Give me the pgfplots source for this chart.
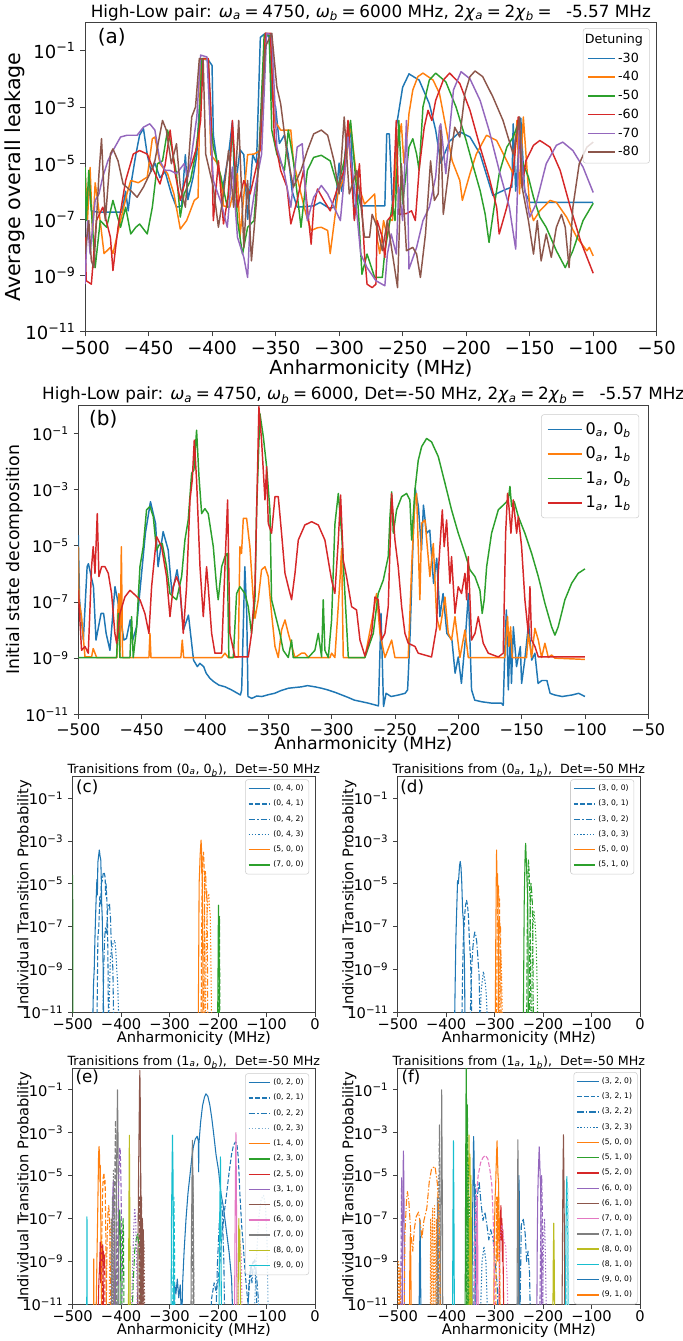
\documentclass[border=0pt]{standalone}
\usepackage{fontspec}
\setmainfont{DejaVu Sans}
\usepackage{pgfplots}
\pgfplotsset{compat=1.18}
\definecolor{C0}{HTML}{1F77B4}
\definecolor{C1}{HTML}{FF7F0E}
\definecolor{C2}{HTML}{2CA02C}
\definecolor{C3}{HTML}{D62728}
\definecolor{C4}{HTML}{9467BD}
\definecolor{C5}{HTML}{8C564B}
\definecolor{C6}{HTML}{E377C2}
\definecolor{C7}{HTML}{7F7F7F}
\definecolor{C8}{HTML}{BCBD22}
\definecolor{C9}{HTML}{17BECF}
\newcommand\tp[1]{10\textsuperscript{#1}}
\newcommand\sub[1]{\textsubscript{\itshape #1}}
\newcommand\om{\textit{ω}}
\newcommand\ch{\textit{χ}}
\newcommand\eq{\hspace{0.22em}=\hspace{0.22em}}
\tikzset{dsh/.style={dash pattern=on 3.5pt off 1.5pt},
  dd/.style={dash pattern=on 5pt off 1.5pt on 1pt off 1.5pt},
  dt/.style={dash pattern=on 1pt off 1.4pt}}
\pgfplotsset{
  scale only axis,
  ytick={1e-11,1e-9,1e-7,1e-5,1e-3,1e-1},
  yticklabels={\tp{−11},\tp{−9},\tp{−7},\tp{−5},\tp{−3},\tp{−1}},
  xtick pos=bottom, ytick pos=left, tick align=outside,
  major tick length=3.5pt,
  axis line style={black!75, line width=0.6pt},
  legend cell align=left,
  legend style={draw=black!20, rounded corners=2pt, fill=white, fill opacity=0.8, text opacity=1, draw opacity=1, anchor=north east},
}
\begin{document}
\begin{tikzpicture}
\useasboundingbox (0,0) rectangle (511.5pt,1005.75pt);

% ---------------- (a)
\begin{axis}[ymode=log, xmin=-500, xmax=-50, ymin=1e-11, ymax=1,
  at={(63.75pt,757pt)}, width=428.8pt, height=231.75pt,
  xtick={-500,-450,...,-50},
  xticklabels={−500,−450,−400,−350,−300,−250,−200,−150,−100,−50},
  yminorticks=false,
  tick label style={font=\fontsize{13.5}{13.5}\selectfont},
  every tick/.style={black!75, line width=0.6pt},
  title={High-Low pair: \om\sub{a}\eq4750, \om\sub{b}\eq6000 MHz, 2\ch\sub{a}\eq2\ch\sub{b}\eq\ \ -5.57 MHz},
  title style={font=\fontsize{12.6}{12.6}\selectfont, anchor=center, yshift=0pt, at={(axis description cs:0.5,1.006)}},
  ylabel={Average overall leakage},
  ylabel style={font=\fontsize{15.5}{15.5}\selectfont, anchor=center, at={(axis description cs:-0.122,0.5)}},
  xlabel={Anharmonicity (MHz)},
  xlabel style={font=\fontsize{14.5}{14.5}\selectfont, anchor=center, at={(axis description cs:0.5,-0.12)}},
  every axis plot/.append style={line width=1.1pt, line join=round},
  legend image code/.code={\draw[#1, line width=1.2pt, opacity=1] (0pt,0pt) -- (20pt,0pt);},
  legend style={at={(0.988,0.982)}, font=\fontsize{9.5}{11}\selectfont, row sep=1.5pt},
]
\addlegendimage{empty legend}\addlegendentry{\hspace*{-25pt}Detuning}
\addplot[C0] coordinates {(-500,7.2e-6) (-499,1e-7) (-497,2e-6) (-495,2e-7) (-490,1.8e-7) (-480,1.8e-7) (-471,1.8e-7) (-468,1e-6) (-466,2e-7) (-463,3e-6) (-460,2e-5) (-457,1e-4) (-454,1.7e-4) (-451,2e-5) (-448,5e-6) (-445,1e-5) (-441,3e-6) (-437,5e-6) (-432,8e-7) (-428,2.7e-7) (-424,3e-7) (-421,2e-5) (-419,5e-7) (-415,3e-6) (-412,2e-5) (-410,1e-3) (-407,5e-2) (-403,4.7e-2) (-400,3e-2) (-399,1e-4) (-396,1e-5) (-392,1e-6) (-387,2e-5) (-384,3e-4) (-382,1e-6) (-378,3e-5) (-375,2e-5) (-372,1e-7) (-368,2e-5) (-365,1e-5) (-362,0.3) (-358,0.42) (-355,0.3) (-353,2e-3) (-350,1e-3) (-347,5e-5) (-343,1e-4) (-340,2e-5) (-337,1e-6) (-333,2.7e-7) (-320,3e-7) (-315,4e-7) (-308,2.5e-7) (-303,2.7e-7) (-300,1e-5) (-298,1e-6) (-294,1e-4) (-291,2e-4) (-288,1e-7) (-286,1e-6) (-283,3e-7) (-264,3e-7) (-262.5,1.1e-4) (-260.5,1.1e-4) (-258,3e-7) (-256,1e-6) (-255,1.9e-4) (-250,5e-3) (-245,1.5e-2) (-237,9e-3) (-229,1.3e-3) (-224,1.5e-4) (-220,1e-5) (-213,6e-5) (-205,1.3e-4) (-197,8.5e-5) (-189,2.1e-5) (-179,7e-7) (-172,1e-6) (-168,1.2e-6) (-164,1.4e-6) (-163,2.5e-4) (-161,1e-6) (-157,4e-4) (-154,1e-6) (-150,4e-7) (-100,4e-7)};
\addlegendentry{-30}
\addplot[C1] coordinates {(-500,7e-6) (-498,1e-7) (-496,7e-6) (-494,3e-8) (-492,2e-6) (-489,2e-7) (-485,6e-9) (-480,1e-8) (-478,6e-9) (-472,9e-8) (-467,8e-7) (-464,2.4e-6) (-458,2e-6) (-451,3.2e-6) (-447,7.4e-5) (-445,8.5e-5) (-441,9.5e-6) (-435,4.2e-6) (-430,8e-7) (-425,4.5e-8) (-420,9e-8) (-414,4.7e-7) (-411,6e-7) (-409,5e-2) (-403,5e-2) (-401,2e-5) (-396,1e-5) (-393,3.2e-6) (-391,3e-7) (-386,2.7e-7) (-380,4.2e-6) (-378,2.3e-8) (-372,2e-5) (-367,2.1e-5) (-362,2.8e-5) (-358,0.42) (-354,0.36) (-351,3.3e-4) (-346,1.5e-4) (-338,1.5e-4) (-336,1.2e-5) (-330,8e-7) (-326,1.5e-7) (-322,4e-8) (-317,5e-8) (-314,5.2e-8) (-309,4e-8) (-307,6e-9) (-301,8e-7) (-296,3.2e-6) (-291,2.5e-4) (-286,2.4e-6) (-280,3.5e-7) (-272,8e-7) (-270,2e-8) (-268,6e-9) (-265,9e-8) (-262,2.3e-8) (-260,1e-7) (-258,9e-8) (-255,2.1e-5) (-251,2.5e-4) (-249,1e-5) (-246,1.5e-4) (-245,5.8e-4) (-242,4e-3) (-238,1.2e-2) (-234,1.6e-2) (-226,9e-3) (-221,3e-3) (-217,3.3e-4) (-211,1.2e-5) (-205,2.4e-6) (-203,4.7e-7) (-197,4.2e-6) (-192,2.1e-5) (-184,9.8e-5) (-176,6.4e-5) (-168,1.2e-5) (-163,4.2e-6) (-160,3.3e-4) (-158,8e-7) (-155,4.4e-4) (-150,2.7e-7) (-147,9e-8) (-142,2e-7) (-134,4.7e-7) (-129,4e-7) (-121,1.2e-7) (-113,2.3e-8) (-105,7.6e-9) (-103,1e-8) (-100,5e-9)};
\addlegendentry{-40}
\addplot[C2] coordinates {(-500,7.2e-6) (-499,9e-8) (-497,5.5e-6) (-492,1.9e-9) (-488,9e-8) (-483,5.2e-8) (-478,4.7e-7) (-475,1.5e-7) (-472,5.2e-8) (-468,2.7e-7) (-464,3e-8) (-460,5.2e-8) (-457,6.8e-8) (-451,3e-8) (-447,2.7e-7) (-443,9.5e-6) (-439,1.2e-5) (-435,1.5e-4) (-432,4e-5) (-428,4.2e-6) (-425,1.2e-7) (-422,8e-7) (-417,2.4e-6) (-413,2.1e-5) (-410,3.3e-4) (-408,5.3e-2) (-403,5.3e-2) (-401,3.3e-4) (-399,3.7e-5) (-393,3.2e-6) (-388,2.7e-7) (-384,1.9e-4) (-380,9e-8) (-376,5.8e-9) (-372,5.2e-8) (-367,9e-8) (-363,2.1e-5) (-359,0.36) (-355,0.36) (-353,1.5e-4) (-349,2.1e-5) (-343,5.5e-6) (-340,1.5e-4) (-336,1.2e-5) (-330,5.2e-8) (-325,5.5e-6) (-320,1.6e-5) (-314,1.9e-5) (-307,1.2e-5) (-301,1.4e-6) (-296,1.2e-5) (-291,3.3e-4) (-285,2.7e-7) (-282,1.1e-9) (-278,5.8e-9) (-272,8.5e-10) (-266,8.5e-10) (-264,7e-9) (-260,9e-8) (-258,3.5e-7) (-256,9e-8) (-253,3.3e-4) (-250,3.5e-7) (-245,3.7e-5) (-242,7.4e-5) (-239,2.1e-5) (-237,5.5e-6) (-234,1e-3) (-229,9e-3) (-224,1.6e-2) (-216,7.8e-3) (-208,1e-3) (-200,6.4e-5) (-195,9.5e-6) (-189,1.05e-6) (-185,1.5e-7) (-182,1.5e-8) (-178,2.7e-7) (-174,4.2e-6) (-168,3.7e-5) (-163,8.5e-5) (-158,3.3e-4) (-156,1.2e-5) (-151,3.2e-6) (-147,6.1e-7) (-142,1.2e-7) (-137,5.2e-8) (-129,7.6e-9) (-122,1.9e-9) (-116,7.6e-9) (-108,9e-8) (-100,3.7e-7)};
\addlegendentry{-50}
\addplot[C3] coordinates {(-500,2.3e-8) (-499,6.5e-10) (-495,4.9e-10) (-491,9e-8) (-486,2.7e-7) (-480,2.3e-8) (-478,1.5e-9) (-474,5.2e-8) (-468,2.4e-6) (-462,2.1e-5) (-457,2.8e-5) (-451,2.1e-5) (-446,5.5e-6) (-441,1.8e-6) (-437,8.3e-6) (-433,1.5e-4) (-429,4.2e-6) (-425,4.7e-7) (-421,2.4e-6) (-416,9.5e-6) (-412,3.7e-5) (-409,3.3e-4) (-407,5.3e-2) (-403,5.3e-2) (-401,1e-3) (-399,9e-8) (-395,1.2e-5) (-391,6.8e-8) (-387,8e-7) (-384,3.3e-4) (-380,2.7e-7) (-375,2.4e-6) (-370,8e-7) (-364,1.2e-5) (-362,3.7e-5) (-358,0.42) (-354,0.42) (-351,8.5e-5) (-346,5.5e-6) (-341,1.4e-6) (-338,6.8e-8) (-333,4.7e-7) (-328,5.5e-6) (-322,1.3e-8) (-320,2.7e-7) (-317,1.2e-6) (-312,4.7e-7) (-307,2e-7) (-301,1.4e-6) (-296,5.5e-6) (-293,3.3e-4) (-288,9e-8) (-284,9.5e-6) (-280,5.8e-9) (-278,4.9e-10) (-274,3.7e-10) (-271,4.9e-10) (-270,9e-8) (-266,2.3e-8) (-264,4.4e-9) (-262,9e-8) (-258,1.5e-7) (-255,3.3e-4) (-253,1.5e-7) (-247,1.6e-7) (-243,2e-7) (-240,9e-8) (-237,6e-6) (-233,1.9e-4) (-230,7.6e-4) (-227,3.3e-4) (-224,1.7e-3) (-218,9e-3) (-213,1.6e-2) (-205,6.8e-3) (-197,7.6e-4) (-189,3.7e-5) (-182,3.2e-6) (-176,2.7e-7) (-174,3e-8) (-168,2.7e-7) (-163,4.2e-6) (-159,4.4e-4) (-156,1.4e-6) (-153,1.2e-5) (-147,4.3e-5) (-142,6.4e-5) (-134,3.7e-5) (-126,5.5e-6) (-118,2.7e-7) (-110,1.7e-8) (-100,1.2e-9)};
\addlegendentry{-60}
\addplot[C4] coordinates {(-500,4.9e-10) (-498,9e-8) (-496,5.8e-9) (-492,4.7e-7) (-489,8e-7) (-486,3.2e-6) (-482,1.2e-5) (-478,2.8e-5) (-472,8.5e-5) (-467,9.8e-5) (-459,9.8e-5) (-454,1.9e-4) (-449,2.5e-4) (-445,1.5e-4) (-441,1.2e-5) (-437,5.5e-6) (-433,5.5e-6) (-428,4.2e-6) (-422,9.5e-6) (-419,3.2e-6) (-416,2.1e-5) (-412,4.4e-4) (-409,7e-2) (-404,6e-2) (-401,8.5e-5) (-399,2.4e-6) (-393,4e-7) (-388,5.2e-8) (-384,7.2e-6) (-380,2.3e-8) (-375,4.4e-9) (-372,8.5e-10) (-370,9e-8) (-366,1.4e-6) (-361,2.1e-5) (-357,0.42) (-353,0.36) (-349,3.7e-5) (-343,4.2e-6) (-338,2.7e-7) (-333,3.7e-5) (-329,4.9e-5) (-325,9e-8) (-320,6.1e-7) (-314,1.6e-6) (-309,8e-7) (-304,2.7e-7) (-299,9e-8) (-293,8.5e-5) (-288,1.4e-6) (-283,5.8e-9) (-278,1.9e-9) (-271,6.5e-10) (-264,4.3e-10) (-262,5.8e-9) (-259,3e-8) (-255,5.8e-9) (-253,1.4e-6) (-250,9e-8) (-247,3.3e-4) (-245,1.7e-9) (-239,1e-8) (-234,9e-8) (-229,2.7e-7) (-224,3.2e-6) (-221,1.9e-4) (-220,2.5e-4) (-216,4.2e-6) (-213,1.5e-4) (-210,4e-3) (-204,1.8e-2) (-197,1e-2) (-189,1.7e-3) (-182,1.5e-4) (-174,5.5e-6) (-166,2.7e-7) (-161,8.7e-9) (-158,3.3e-4) (-155,2.4e-6) (-150,1.2e-7) (-145,3.5e-7) (-137,9.5e-6) (-129,4.3e-5) (-124,5.6e-5) (-116,2.8e-5) (-108,7.2e-6) (-100,9e-7)};
\addlegendentry{-70}
\addplot[C5] coordinates {(-500,5.8e-9) (-497,9e-8) (-495,3.3e-9) (-493,1.9e-9) (-489,4.2e-6) (-487,7.4e-5) (-484,9e-8) (-480,2.1e-5) (-478,3.2e-5) (-474,1.2e-5) (-470,1.8e-6) (-464,1.05e-6) (-459,6.1e-7) (-454,1.4e-6) (-449,4.2e-6) (-445,1.2e-5) (-439,3.3e-4) (-436,1.5e-4) (-432,9.5e-6) (-428,4.9e-5) (-425,1.4e-6) (-421,2.7e-7) (-416,4.4e-4) (-413,1e-3) (-410,5.3e-2) (-407,4.7e-2) (-405,2.1e-5) (-399,1.4e-6) (-395,5.2e-8) (-391,8e-7) (-387,2.8e-5) (-383,2.7e-7) (-379,3.3e-4) (-375,1e-8) (-372,2.4e-6) (-369,3.3e-9) (-365,4.7e-7) (-362,1.5e-4) (-358,0.14) (-353,0.42) (-349,5.1e-3) (-346,1.3e-3) (-341,2.1e-5) (-336,1.4e-6) (-330,5.5e-6) (-325,2.8e-5) (-320,1.1e-4) (-314,1.5e-4) (-309,9.8e-5) (-304,1.2e-5) (-300,8e-7) (-296,4.4e-4) (-292,8e-7) (-286,5.5e-6) (-280,2.3e-8) (-276,2.3e-8) (-274,1.5e-7) (-270,5.2e-8) (-266,7.6e-9) (-262,9e-8) (-258,5.8e-9) (-254,3.7e-10) (-251,9.5e-6) (-247,7.6e-9) (-242,1e-8) (-239,5.8e-9) (-236,8.5e-10) (-232,3e-8) (-228,1.2e-5) (-225,4.7e-7) (-222,8e-7) (-220,1.5e-4) (-218,1.5e-7) (-213,9.5e-6) (-209,1.9e-4) (-205,8.5e-5) (-201,3e-3) (-197,1.2e-2) (-193,1.9e-2) (-187,1.2e-2) (-179,2.3e-3) (-171,3.3e-4) (-163,2.1e-5) (-158,4.4e-4) (-156,1.4e-6) (-151,9e-8) (-147,5.8e-9) (-144,9e-8) (-141,3.3e-9) (-137,3e-8) (-133,4.4e-9) (-129,5.2e-8) (-125,1.5e-7) (-122,5.2e-8) (-119,1.9e-9) (-116,2.7e-7) (-111,9.5e-6) (-105,3.7e-5) (-100,5.6e-5)};
\addlegendentry{-80}
\node[font=\fontsize{15}{15}\selectfont] at (rel axis cs:0.047,0.953) {(a)};
\end{axis}

% ---------------- (b)
\begin{axis}[ymode=log, xmin=-500, xmax=-50, ymin=1e-11, ymax=1,
  at={(58.7pt,470pt)}, width=427.5pt, height=231.75pt,
  xtick={-500,-450,...,-50},
  xticklabels={−500,−450,−400,−350,−300,−250,−200,−150,−100,−50},
  yminorticks=false,
  tick label style={font=\fontsize{12}{12}\selectfont},
  every tick/.style={black!75, line width=0.6pt},
  title={High-Low pair: \om\sub{a}\eq4750, \om\sub{b}\eq6000, Det=-50 MHz, 2\ch\sub{a}\eq2\ch\sub{b}\eq\ \ -5.57 MHz},
  title style={font=\fontsize{12.6}{12.6}\selectfont, anchor=center, yshift=0pt, at={(axis description cs:0.5,1.007)}},
  ylabel={Initial state decomposition},
  ylabel style={font=\fontsize{13}{13}\selectfont, anchor=center, at={(axis description cs:-0.112,0.5)}},
  xlabel={Anharmonicity (MHz)},
  xlabel style={font=\fontsize{12.7}{12.7}\selectfont, anchor=center, at={(axis description cs:0.5,-0.1)}},
  every axis plot/.append style={line width=1.1pt, line join=round},
  legend image code/.code={\draw[#1, line width=1.2pt, opacity=1] (0pt,0pt) -- (26pt,0pt);},
  legend style={at={(0.984,0.971)}, font=\fontsize{12}{14}\selectfont, row sep=4pt, inner sep=4pt},
]
\addplot[C0] coordinates {(-500,2.4e-5) (-499,1.2e-7) (-496,4.4e-9) (-493,1.8e-6) (-492,2.3e-6) (-488,3.5e-7) (-486,4.4e-9) (-482,3.9e-8) (-480,3.9e-8) (-478,7.6e-9) (-475,1.9e-9) (-471,3.5e-7) (-468,6.8e-8) (-464,4.4e-9) (-462,5e-9) (-459,2.3e-8) (-457,4.4e-9) (-454,1.3e-8) (-451,3.5e-7) (-447,2.8e-5) (-443,3.7e-4) (-439,6.3e-5) (-437,1.8e-6) (-433,3.2e-5) (-429,7.1e-6) (-426,2e-7) (-422,1.4e-6) (-420,3.5e-7) (-417,1e-8) (-413,3.4e-8) (-409,8.5e-10) (-406,5e-10) (-404,6.5e-10) (-401,5e-10) (-399,2.9e-10) (-396,1.9e-10) (-393,1.45e-10) (-389,1.1e-10) (-384,9.5e-11) (-379,7.4e-11) (-372,4.9e-11) (-371,7.4e-11) (-368.5,1.8e-6) (-367,3.9e-8) (-366,4.3e-11) (-363,3.7e-11) (-359,4.5e-11) (-355,4.3e-11) (-350,5e-11) (-345,5.6e-11) (-340,7e-11) (-334,8.5e-11) (-329,9e-11) (-324,9.5e-11) (-319,1.05e-10) (-313,9.5e-11) (-308,8.5e-11) (-303,7.4e-11) (-297,6e-11) (-292,4.9e-11) (-287,4e-11) (-282,3.2e-11) (-276,2.8e-11) (-271,2.5e-11) (-263,2e-11) (-261,3.9e-8) (-259,1.9e-11) (-257,5.6e-11) (-253,4.3e-11) (-247,4.9e-11) (-242,5.6e-11) (-240,7.4e-11) (-238,7.6e-9) (-235.5,2.8e-5) (-234,1.1e-3) (-231.5,2.5e-4) (-229,7.1e-6) (-227.5,2.8e-4) (-225,2.8e-5) (-222.5,3.6e-5) (-219.5,4.6e-7) (-217,3.6e-6) (-214.5,3e-8) (-212,2e-7) (-209,7.6e-9) (-205,4.4e-9) (-202.5,2.9e-10) (-200,1.1e-9) (-197.5,1.26e-10) (-194.5,4.4e-9) (-192,2e-7) (-189.5,7.4e-11) (-187,3.2e-11) (-181.5,2.8e-11) (-173.5,2.5e-11) (-166,2.5e-11) (-164.5,2.1e-11) (-163,4.4e-9) (-162,5.2e-8) (-160.5,7.4e-11) (-159,7.6e-9) (-158,1.26e-10) (-156.5,1.3e-8) (-154,5e-10) (-151,2.6e-9) (-150,1.26e-10) (-147.5,8.5e-10) (-144.5,1.7e-8) (-142,8.5e-10) (-139.5,1.5e-9) (-137,1.26e-10) (-134,1.6e-10) (-130,1.6e-10) (-127.5,5.6e-11) (-124,4.9e-11) (-118,4.3e-11) (-110,4.9e-11) (-105,5.6e-11) (-100,4.3e-11)};
\addlegendentry{0\sub{a}, 0\sub{b}}
\addplot[C1] coordinates {(-500,9.3e-6) (-499.5,1.2e-7) (-497.4,3e-8) (-494.7,1.1e-9) (-489.5,1.1e-9) (-488.2,2.2e-9) (-485.5,1.05e-9) (-469.5,1.05e-9) (-469,3e-8) (-467.9,2e-7) (-467.1,1.05e-9) (-466,9.3e-6) (-465,1.05e-9) (-444.2,1.05e-9) (-443.4,7.6e-9) (-442.6,1.05e-9) (-419,1.05e-9) (-417.9,4.4e-9) (-416.8,1.05e-9) (-386.8,1.05e-9) (-384.2,1.5e-9) (-381.6,1.05e-9) (-373.7,1.1e-9) (-372.4,9.3e-6) (-371.1,5.4e-6) (-369.7,9.5e-5) (-367.1,9.5e-5) (-364.5,9.3e-6) (-361.8,1.2e-7) (-360.5,2.6e-8) (-357.9,1.2e-7) (-355.3,1.4e-6) (-352.6,1.8e-6) (-350,8e-7) (-347.4,3.9e-8) (-344.7,2.6e-9) (-342.1,1.05e-9) (-339.5,1e-8) (-336.8,2.3e-8) (-334.2,7.6e-9) (-328.9,1.05e-9) (-323.7,1.5e-9) (-321.1,1.5e-9) (-318.4,1.05e-9) (-301.3,1.05e-9) (-300,1.5e-9) (-297.4,1.05e-9) (-293.4,6e-7) (-292.1,8e-6) (-290.8,1.05e-9) (-273.7,1.05e-9) (-267.1,3.9e-8) (-264.5,2e-7) (-261.8,7.6e-9) (-257.9,1.05e-9) (-252.6,4.4e-9) (-250,1.05e-9) (-239.5,1.05e-9) (-236.8,1.8e-6) (-234.2,4.3e-4) (-232.9,7.3e-4) (-230.3,1.2e-7) (-228.9,6.3e-5) (-226.3,8.3e-5) (-222.4,8e-7) (-219.7,1.2e-5) (-217.1,3e-8) (-214.5,1e-8) (-210.5,1.5e-7) (-207.9,7.6e-9) (-205.3,4.4e-9) (-202.6,3e-8) (-198.7,1.05e-9) (-194.7,1e-8) (-192.1,1.05e-9) (-163.2,1.05e-9) (-161.1,3e-8) (-160,2.6e-9) (-158.7,1.3e-8) (-157.4,1.05e-9) (-146.1,1.05e-9) (-144.7,7.6e-9) (-142.1,1.05e-9) (-139.5,1.15e-8) (-136.8,4.4e-9) (-134.2,1.05e-9) (-131.6,3.4e-9) (-128.9,1.05e-9) (-126.3,1.3e-9) (-123.7,1e-9) (-100,9e-10)};
\addlegendentry{0\sub{a}, 1\sub{b}}
\addplot[C2] coordinates {(-500,1.05e-9) (-476.3,1.05e-9) (-469.7,1.05e-9) (-468.4,3.9e-8) (-467.1,1.05e-9) (-459.2,1.05e-9) (-457.9,3e-8) (-456.6,1.05e-9) (-453.9,1.3e-8) (-451.3,1.8e-6) (-448.7,9.3e-6) (-446.1,1.9e-4) (-443.4,2.5e-4) (-440.8,1.1e-4) (-438.2,7.1e-6) (-435.5,1.2e-5) (-433.7,1.2e-5) (-430.3,1.8e-6) (-427.6,2e-7) (-425,1.5e-7) (-422.4,1.2e-7) (-418.4,8e-7) (-415.8,1.6e-5) (-413.2,8.3e-5) (-410.5,3.8e-3) (-408.7,5e-3) (-406.6,0.13) (-404.7,2.9e-3) (-402.6,1.4e-4) (-400,2.1e-4) (-397.4,1.4e-4) (-393.4,9.3e-6) (-390.8,3.5e-7) (-389.5,1.2e-7) (-386.8,1.8e-6) (-384.2,4.1e-6) (-382.4,5.4e-6) (-381.1,1.05e-9) (-377.6,1.05e-9) (-375,2e-7) (-372.4,3.5e-7) (-368.4,2e-7) (-365.8,6.8e-8) (-363.2,7.6e-9) (-360.5,1.2e-7) (-359.2,1.9e-4) (-356.6,0.51) (-353.9,0.076) (-351.3,6.5e-3) (-348.7,1.9e-4) (-347.4,1.2e-7) (-344.7,3.9e-8) (-340.8,7.6e-9) (-338.2,1.9e-9) (-334.2,1.05e-9) (-331.6,4.4e-9) (-330.3,1.05e-9) (-318.4,1.05e-9) (-313.2,1.9e-9) (-310.5,7.6e-9) (-307.9,1.1e-9) (-306.6,1.2e-7) (-305.3,1.9e-9) (-302.6,1.05e-9) (-300,2.3e-8) (-297.4,5.8e-5) (-294.7,7.3e-4) (-292.1,2.8e-5) (-289.5,2e-7) (-286.8,1.05e-9) (-273.7,1.05e-9) (-267.1,7.6e-9) (-263.2,2e-7) (-259.2,6e-7) (-255.3,4.1e-6) (-253.9,1.1e-4) (-252.6,8.3e-4) (-251.3,2.8e-5) (-248.7,1.9e-4) (-244.7,5.6e-4) (-240.8,7.3e-4) (-238.2,4.3e-4) (-236.8,1.6e-5) (-234.2,9.6e-4) (-231.6,1.1e-2) (-228.9,3.4e-2) (-225,6.6e-2) (-221.1,5e-2) (-215.8,1.5e-2) (-210.5,1.7e-3) (-205.3,1.9e-4) (-200,2.8e-5) (-194.7,5.4e-6) (-190.8,1.4e-6) (-186.8,8e-7) (-182.9,2.6e-7) (-181.1,3.9e-8) (-179.5,1.2e-7) (-177.6,1.8e-6) (-173.7,2.8e-5) (-168.4,1.9e-4) (-163.2,3.2e-4) (-160.5,4.3e-4) (-159.2,1.3e-3) (-157.9,2.5e-4) (-155.8,3.7e-4) (-152.6,1.1e-4) (-147.4,2.8e-5) (-142.1,5.4e-6) (-136.8,8e-7) (-131.6,9e-8) (-126.3,1.3e-8) (-123.7,6.6e-9) (-121.1,1.3e-8) (-115.8,1.2e-7) (-110.5,4.6e-7) (-105.3,1.05e-6) (-100,1.5e-6)};
\addlegendentry{1\sub{a}, 0\sub{b}}
\addplot[C3] coordinates {(-500,2.6e-7) (-497.4,1.9e-9) (-494.7,2.6e-9) (-492.1,1.5e-9) (-489.5,1.8e-6) (-488.2,9.3e-6) (-486.8,1.05e-6) (-485,1.4e-4) (-483.7,8e-7) (-481.6,1.8e-6) (-478.9,1.8e-6) (-476.3,1.05e-6) (-473.7,2e-7) (-471.1,7.6e-9) (-469.7,3.4e-9) (-467.1,3.9e-8) (-463.2,1.5e-7) (-459.2,2.6e-7) (-455.3,1.8e-7) (-451.3,1.2e-7) (-447.4,3.9e-8) (-444.2,7.6e-9) (-442.1,3.5e-7) (-438.2,2.1e-5) (-434.2,9.3e-6) (-430.3,8e-7) (-427.6,3e-8) (-425,3.5e-7) (-422.4,8e-7) (-419.7,3.5e-7) (-417.1,7.6e-9) (-414.5,3.5e-7) (-411.8,4.3e-4) (-410,2.2e-3) (-408.4,5.8e-2) (-406.6,2.2e-3) (-403.9,1.8e-6) (-401.3,3e-8) (-398.7,1.8e-6) (-397.4,3.5e-7) (-394.7,7.6e-9) (-392.1,1.5e-9) (-386.8,1.5e-9) (-384.2,1.8e-6) (-382.1,4.3e-4) (-380.3,7.6e-9) (-376.3,1.1e-9) (-365.8,1.1e-9) (-363.2,7.6e-9) (-360.5,3.5e-7) (-358.4,6.5e-3) (-357.4,0.9) (-355.3,5.8e-2) (-352.6,4.3e-4) (-351.3,6.5e-3) (-350,6.3e-5) (-347.4,2.8e-5) (-344.7,5.6e-4) (-342.1,5.6e-4) (-339.5,2.8e-5) (-336.8,1.05e-6) (-334.2,3.5e-7) (-331.6,1.2e-7) (-328.9,1.05e-6) (-326.3,1.6e-5) (-321.1,5.5e-5) (-315.8,7.2e-5) (-310.5,5.5e-5) (-305.3,1.6e-5) (-300,6e-7) (-297.4,2e-7) (-294.7,1.6e-5) (-292.9,6.4e-4) (-290.8,3.1e-6) (-288.2,8e-7) (-284.2,6.8e-8) (-280.3,5.2e-8) (-277.6,4.4e-9) (-273.7,1.2e-9) (-268.4,7.6e-9) (-265.8,1.5e-7) (-263.2,1.2e-7) (-260.5,4.4e-9) (-257.9,7.6e-9) (-255.3,6.8e-8) (-252.6,7.3e-4) (-250,1.6e-5) (-247.4,1.8e-6) (-244.7,6.8e-8) (-242.1,7.6e-9) (-239.5,3.4e-9) (-234.2,2.6e-9) (-231.6,1.5e-9) (-221.1,1.1e-9) (-219.7,2.6e-9) (-217.1,1.3e-8) (-215.8,1.05e-6) (-214.5,9.3e-6) (-212.6,1.9e-4) (-211.1,9.3e-6) (-209.2,8.3e-5) (-206.6,4.6e-7) (-205.3,4.1e-6) (-202.6,3.9e-8) (-200,3.5e-7) (-197.4,2e-7) (-194.7,1.05e-6) (-193.4,1.2e-7) (-192.1,4.1e-6) (-189.5,4.4e-9) (-186.8,7.6e-9) (-184.2,3e-8) (-180.3,3.4e-9) (-176.3,1.5e-9) (-168.4,1.1e-9) (-164.5,1.5e-9) (-162.6,2.8e-5) (-161.1,7.3e-4) (-160,2.5e-4) (-158.4,2.8e-5) (-156.6,4.3e-4) (-153.9,2.8e-5) (-152.6,1.1e-4) (-150,9.3e-6) (-147.4,1.2e-7) (-144.7,7.6e-9) (-143.4,3.5e-7) (-142.1,4.4e-9) (-139.5,2.6e-9) (-136.8,1.1e-9) (-100,1.1e-9)};
\addlegendentry{1\sub{a}, 1\sub{b}}
\node[font=\fontsize{15}{15}\selectfont] at (rel axis cs:0.044,0.956) {(b)};
\end{axis}

% ---------------- (c)
\begin{axis}[ymode=log, xmin=-500, xmax=0, ymin=1e-11, ymax=1,
  at={(54.5pt,246.5pt)}, width=181.7pt, height=176.7pt,
  xtick={-500,-400,...,0}, xticklabels={−500,−400,−300,−200,−100,0},
  yminorticks=false,
  tick label style={font=\fontsize{11}{11}\selectfont},
  xticklabel style={yshift=2.5pt},
  every tick/.style={black!75, line width=0.6pt},
  title={Tranisitions from (0\sub{a}, 0\sub{b}), \ Det=-50 MHz},
  title style={font=\fontsize{9.5}{9.5}\selectfont, anchor=center, yshift=0pt, at={(axis description cs:0.5,0.994)}},
  ylabel={Individual Transition Probability},
  ylabel style={font=\fontsize{11}{11}\selectfont, anchor=center, at={(axis description cs:-0.2,0.5)}},
  xlabel={Anharmonicity (MHz)},
  xlabel style={font=\fontsize{11}{11}\selectfont, anchor=center, at={(axis description cs:0.5,-0.112)}},
  every axis plot/.append style={line width=0.8pt, line join=round},
  legend image code/.code={\draw[#1, line width=1pt, opacity=1] (0pt,0pt) -- (16pt,0pt);},
  legend style={at={(0.976,0.989)}, font=\fontsize{5.7}{6.5}\selectfont, row sep=1.6pt, inner sep=2pt},
]
\addplot[C0] coordinates {(-459,1e-12) (-457,2e-10) (-455.5,1e-9) (-454,3e-8) (-452,1e-6) (-450,1.6e-5) (-449,3e-6) (-448,1e-4) (-446.5,2e-4) (-445,3.8e-4) (-443.5,2e-4) (-442,1.3e-4) (-441,2e-5) (-440,1e-6) (-439,3e-7) (-438,1e-8) (-437,1e-9) (-436,1e-12)};
\addlegendentry{(0, 4, 0)}
\addplot[C0,dsh] coordinates {(-450,1e-12) (-448,3e-8) (-446,1e-7) (-444,2.5e-6) (-442,1e-6) (-441,1e-5) (-439,1.4e-5) (-437,3e-5) (-435,3.5e-5) (-433,2e-5) (-432,3e-6) (-431,1e-5) (-429,1e-6) (-428,1.2e-7) (-427,1e-9) (-426,1e-12)};
\addlegendentry{(0, 4, 1)}
\addplot[C0,dd] coordinates {(-438,1e-12) (-436,1e-9) (-434,3e-8) (-432,1e-7) (-430,5e-8) (-428,5.8e-7) (-426,1e-6) (-424,1.2e-6) (-423,5e-7) (-422,2.8e-7) (-420,1e-8) (-418,3e-9) (-417,1e-9) (-415,1e-12)};
\addlegendentry{(0, 4, 2)}
\addplot[C0,dt] coordinates {(-426,1e-12) (-424,1e-10) (-422,4e-9) (-420,8e-9) (-417,1.6e-8) (-415,2e-8) (-413,2.3e-8) (-411,8e-9) (-409,1e-9) (-407,2e-10) (-404,1e-12)};
\addlegendentry{(0, 4, 3)}
\addplot[C1] coordinates {(-241,1e-12) (-240,1e-9) (-239.5,1e-7) (-239,1e-5) (-238,4e-5) (-237,2e-4) (-236,5e-4) (-235,1.1e-3) (-234,4e-4) (-233.5,3e-5) (-233,2e-4) (-232,1e-6) (-231.5,1e-8) (-231,1e-12)};
\addlegendentry{(5, 0, 0)}
\addplot[C2] coordinates {(-500,1e-12) (-500,2.5e-5) (-499.6,1e-9) (-499.3,1e-12)};
\addlegendentry{(7, 0, 0)}
\addplot[C1,dsh,forget plot] coordinates {(-235,1e-12) (-234,1e-8) (-233,3e-6) (-232,5e-5) (-231,2e-4) (-230,3e-4) (-229,1e-4) (-228,2e-5) (-227.5,1e-7) (-227,1e-12)};
\addplot[C1,dd,forget plot] coordinates {(-230,1e-12) (-229,1e-8) (-228,3e-6) (-227,2e-5) (-226,4e-5) (-225,1.5e-5) (-224,2e-6) (-223,5e-6) (-222,1e-8) (-221,1e-12)};
\addplot[C1,dt,forget plot] coordinates {(-226,1e-12) (-225,1e-9) (-223,3e-7) (-221,2e-6) (-219,3.5e-6) (-218,1e-6) (-216,3e-7) (-215,1e-8) (-213,1e-12)};
\addplot[C2,forget plot] coordinates {(-201,1e-12) (-200,1e-9) (-199.5,1e-7) (-199,1e-6) (-198.5,1e-8) (-198,1e-9) (-197.5,3e-9) (-197,1e-12)};
\addplot[C2,dsh,forget plot] coordinates {(-199,1e-12) (-198,1e-8) (-197,3e-7) (-196.5,1e-9) (-196,1e-12)};
\node[font=\fontsize{12.5}{12.5}\selectfont] at (rel axis cs:0.06,0.955) {(c)};
\end{axis}

% ---------------- (d)
\begin{axis}[ymode=log, xmin=-500, xmax=0, ymin=1e-11, ymax=1,
  at={(298.3pt,246.5pt)}, width=181.7pt, height=176.7pt,
  xtick={-500,-400,...,0}, xticklabels={−500,−400,−300,−200,−100,0},
  yminorticks=false,
  tick label style={font=\fontsize{11}{11}\selectfont},
  xticklabel style={yshift=2.5pt},
  every tick/.style={black!75, line width=0.6pt},
  title={Tranisitions from (0\sub{a}, 1\sub{b}), \ Det=-50 MHz},
  title style={font=\fontsize{9.5}{9.5}\selectfont, anchor=center, yshift=0pt, at={(axis description cs:0.5,0.994)}},
  ylabel={Individual Transition Probability},
  ylabel style={font=\fontsize{11}{11}\selectfont, anchor=center, at={(axis description cs:-0.2,0.5)}},
  xlabel={Anharmonicity (MHz)},
  xlabel style={font=\fontsize{11}{11}\selectfont, anchor=center, at={(axis description cs:0.5,-0.112)}},
  every axis plot/.append style={line width=0.8pt, line join=round},
  legend image code/.code={\draw[#1, line width=1pt, opacity=1] (0pt,0pt) -- (16pt,0pt);},
  legend style={at={(0.976,0.989)}, font=\fontsize{5.7}{6.5}\selectfont, row sep=1.6pt, inner sep=2pt},
]
\addplot[C0] coordinates {(-383,1e-12) (-381,1e-9) (-380,3e-8) (-378,1e-6) (-376.5,1.4e-5) (-375,1e-5) (-374,2e-5) (-372.5,7e-5) (-371,1.1e-4) (-369.5,6e-5) (-368,1.4e-5) (-366,5e-7) (-364.5,2e-7) (-363,1e-8) (-362,5e-10) (-361,1e-12)};
\addlegendentry{(3, 0, 0)}
\addplot[C0,dsh] coordinates {(-368,1e-12) (-366,1e-9) (-364.5,3e-8) (-363,1e-7) (-361,6e-7) (-359.5,1.2e-6) (-358,1.7e-6) (-356,1e-6) (-354,3e-7) (-352,2e-8) (-350,4e-9) (-348,1e-10) (-347,1e-12)};
\addlegendentry{(3, 0, 1)}
\addplot[C0,dd] coordinates {(-351,1e-12) (-349,1e-10) (-347,2e-9) (-345,1e-8) (-343,3e-8) (-341,5.6e-8) (-339,4e-8) (-337,2e-8) (-335,5e-9) (-333,1e-9) (-332,5e-10) (-330,1e-12)};
\addlegendentry{(3, 0, 2)}
\addplot[C0,dt] coordinates {(-330,1e-12) (-328,1e-10) (-326,2.2e-10) (-324,6e-10) (-323,8e-10) (-321,4e-10) (-319,2e-10) (-317,5e-11) (-314,1e-12)};
\addlegendentry{(3, 0, 3)}
\addplot[C1] coordinates {(-299,1e-12) (-298,1e-9) (-297.5,1e-7) (-297,1.3e-6) (-296.5,5e-5) (-296,3.8e-4) (-295.5,5e-5) (-295,1e-5) (-294,3e-5) (-293.5,1e-6) (-293,5e-6) (-292,1e-9) (-291.5,1e-12)};
\addlegendentry{(5, 0, 0)}
\addplot[C2] coordinates {(-241,1e-12) (-240,1e-9) (-239,1e-6) (-238,2e-5) (-237,3e-4) (-236,7.8e-4) (-235,2e-4) (-234,5e-5) (-233,1e-5) (-232,3e-6) (-231,1e-8) (-230.5,1e-12)};
\addlegendentry{(5, 1, 0)}
\addplot[C1,dsh,forget plot] coordinates {(-296,1e-12) (-295,1e-8) (-294,1e-5) (-293,3e-6) (-292,8e-6) (-291,1e-6) (-290,2e-6) (-289,1e-8) (-288.5,1e-12)};
\addplot[C1,dd,forget plot] coordinates {(-293,1e-12) (-292,1e-9) (-291,1e-7) (-290,2e-7) (-289,5e-8) (-288,1e-7) (-287,1e-9) (-286.5,1e-12)};
\addplot[C1,dt,forget plot] coordinates {(-291,1e-12) (-290,1e-10) (-289,3e-9) (-288,1e-9) (-287,5e-9) (-286,1e-9) (-285,1e-10) (-284,1e-12)};
\addplot[C2,dsh,forget plot] coordinates {(-234,1e-12) (-233,1e-8) (-232,3e-6) (-231,5e-5) (-230.5,1.3e-4) (-229.5,8e-5) (-228.5,2e-5) (-228,1e-5) (-227,2e-6) (-226,1e-8) (-225,1e-12)};
\addplot[C2,dd,forget plot] coordinates {(-229,1e-12) (-228,1e-9) (-227,1e-7) (-226,2e-6) (-225,1.2e-5) (-224,6e-6) (-223,3e-6) (-222,1e-6) (-221,1e-8) (-220,1e-12)};
\addplot[C2,dt,forget plot] coordinates {(-224,1e-12) (-223,1e-10) (-222,1e-8) (-221,1e-7) (-219,5.7e-7) (-218,3e-7) (-216,1e-7) (-214,1e-8) (-212,1e-10) (-211,1e-12)};
\node[font=\fontsize{12.5}{12.5}\selectfont] at (rel axis cs:0.06,0.955) {(d)};
\end{axis}

% ---------------- (e)
\begin{axis}[ymode=log, xmin=-500, xmax=0, ymin=1e-11, ymax=1,
  at={(54.5pt,27.5pt)}, width=181.7pt, height=177pt,
  xtick={-500,-400,...,0}, xticklabels={−500,−400,−300,−200,−100,0},
  yminorticks=false,
  tick label style={font=\fontsize{11}{11}\selectfont},
  xticklabel style={yshift=2.5pt},
  every tick/.style={black!75, line width=0.6pt},
  title={Tranisitions from (1\sub{a}, 0\sub{b}), \ Det=-50 MHz},
  title style={font=\fontsize{9.5}{9.5}\selectfont, anchor=center, yshift=0pt, at={(axis description cs:0.5,0.993)}},
  ylabel={Individual Transition Probability},
  ylabel style={font=\fontsize{11}{11}\selectfont, anchor=center, at={(axis description cs:-0.2,0.5)}},
  xlabel={Anharmonicity (MHz)},
  xlabel style={font=\fontsize{11}{11}\selectfont, anchor=center, at={(axis description cs:0.5,-0.112)}},
  every axis plot/.append style={line width=0.8pt, line join=round},
  legend image code/.code={\draw[#1, line width=1pt, opacity=1] (0pt,0pt) -- (16pt,0pt);},
  legend style={at={(0.976,0.979)}, font=\fontsize{5.7}{6.5}\selectfont, row sep=1.6pt, inner sep=2pt},
]
\addplot[C0] coordinates {(-292,1e-12) (-290,1e-10) (-287,3e-11) (-284,1.5e-10) (-281,2e-11) (-278,8e-11) (-275,1e-12) (-273,1e-10) (-270,3e-9) (-266,1e-7) (-262,1.5e-6) (-258,1e-5) (-254,7e-5) (-251,2.1e-4) (-247,5e-4) (-243,6.8e-4) (-240.5,4e-4) (-240,1.5e-5) (-239.5,3e-4) (-236,3e-3) (-232,1.8e-2) (-228,4.5e-2) (-225,6.5e-2) (-221,5e-2) (-217,2e-2) (-213,5e-3) (-209,9e-4) (-204,9e-5) (-199,1.8e-5) (-194,1.5e-6) (-189,3.5e-7) (-182,2e-8) (-177,2.5e-9) (-172,1.5e-10) (-169,1e-12)};
\addlegendentry{(0, 2, 0)}
\addplot[C0,dsh] coordinates {(-217,1e-12) (-213,2e-11) (-208,1e-10) (-204,4e-11) (-200,1.2e-10) (-196,1e-9) (-192,1.5e-8) (-187,2e-7) (-182,1.6e-6) (-177,1.5e-5) (-172,1e-4) (-168,2.6e-4) (-164,3.7e-4) (-161,3e-4) (-158,6e-5) (-155,1.6e-6) (-151,4e-8) (-148,6e-9) (-144,3e-10) (-141,5e-11) (-138,1e-11) (-135,1e-10) (-131,6e-10) (-127,1e-9) (-124,5e-10) (-121,4e-11) (-118,1e-12)};
\addlegendentry{(0, 2, 1)}
\addplot[C0,dd] coordinates {(-140,1e-12) (-136,1e-10) (-133,6e-10) (-130,1e-10) (-127,8e-10) (-124,1.2e-9) (-121,3e-10) (-117,2e-11) (-114,1e-12)};
\addlegendentry{(0, 2, 2)}
\addplot[C0!60,dt] coordinates {(-126,1e-12) (-121,1e-9) (-116,1e-7) (-111,8e-7) (-106,1.2e-6) (-102,4e-7) (-99,1e-8) (-96,1e-12)};
\addlegendentry{(0, 2, 3)}
\addplot[C1] coordinates {(-452,1e-12) (-450,1e-9) (-448.5,1e-7) (-447.5,3e-6) (-446.5,1e-4) (-445.5,2.3e-4) (-444.5,8e-5) (-443.5,5e-6) (-443,3e-5) (-442,1e-7) (-441,1e-9) (-440,1e-12)};
\addlegendentry{(1, 4, 0)}
\addplot[C2] coordinates {(-407,1e-12) (-405.5,1e-9) (-404,1e-7) (-403,2.5e-7) (-402,5e-8) (-401,1e-9) (-400,1e-12)};
\addlegendentry{(2, 3, 0)}
\addplot[C3] coordinates {(-448,1e-12) (-446,1e-10) (-444,1e-9) (-443,8e-9) (-442,1e-10) (-440,5e-9) (-439,1e-9) (-438,6e-9) (-437,1e-10) (-436,1e-12)};
\addlegendentry{(2, 5, 0)}
\addplot[C4] coordinates {(-420,1e-12) (-419,1e-9) (-418,1e-7) (-417,2e-6) (-416,6e-6) (-415,5e-7) (-414,2e-8) (-413,1e-12)};
\addlegendentry{(3, 1, 0)}
\addplot[C5] coordinates {(-366,1e-12) (-365,1e-8) (-364,1e-5) (-363,1e-3) (-362,0.1) (-361.3,0.8) (-360.6,0.05) (-360,1e-4) (-359,1e-6) (-358,1e-9) (-357,1e-12)};
\addlegendentry{(5, 0, 0)}
\addplot[C6] coordinates {(-166,1e-12) (-165,1e-8) (-164,1e-5) (-163,1e-3) (-162.3,1e-5) (-161.5,1e-8) (-161,1e-12)};
\addlegendentry{(6, 0, 0)}
\addplot[C7] coordinates {(-412,1e-12) (-410.5,1e-8) (-409.5,1e-5) (-408.5,1e-3) (-407.5,0.1) (-406.5,1e-3) (-405.5,1e-6) (-404.5,1e-12)};
\addlegendentry{(7, 0, 0)}
\addplot[C8] coordinates {(-385,1e-12) (-384,1e-7) (-383,7.6e-4) (-382,1e-7) (-381,1e-12)};
\addlegendentry{(8, 0, 0)}
\addplot[C9] coordinates {(-297,1e-12) (-296,1e-7) (-295,1e-5) (-294,7.6e-4) (-293,2e-5) (-292,1e-8) (-291,1e-12)};
\addlegendentry{(9, 0, 0)}
\addplot[C0,dd,forget plot] coordinates {(-205,1e-12) (-201,1e-9) (-197,1e-7) (-194,6e-7) (-191,2e-7) (-188,1e-9) (-186,1e-12)};
\addplot[C1,forget plot] coordinates {(-457,1e-12) (-456.5,1.3e-9) (-456,1e-12)};
\addplot[C1,dsh,forget plot] coordinates {(-441,1e-12) (-440,1e-8) (-438.5,1e-6) (-437,8e-6) (-435.5,1.3e-5) (-434,4e-6) (-433,6e-6) (-432,1e-7) (-431,1e-9) (-430,1e-12)};
\addplot[C1,dd,forget plot] coordinates {(-431,1e-12) (-429,1e-8) (-427,2e-7) (-425.5,4e-7) (-424,1e-7) (-423,1e-8) (-421,1e-12)};
\addplot[C1,dt,forget plot] coordinates {(-425,1e-12) (-423,1e-8) (-420,1e-7) (-418,3e-8) (-416,1e-12)};
\addplot[C2,dsh,forget plot] coordinates {(-399,1e-12) (-397,1e-8) (-396,1e-7) (-395,2e-8) (-394,1e-12)};
\addplot[C2,dd,forget plot] coordinates {(-378,1e-12) (-375,1e-10) (-372,3e-9) (-369,1e-8) (-366,2e-8) (-363,5e-9) (-360,1e-10) (-358,1e-12)};
\addplot[C3,dsh,forget plot] coordinates {(-440,1e-12) (-438,1e-10) (-436.5,3e-9) (-435,5e-10) (-434,2e-9) (-433,1e-12)};
\addplot[C4,dsh,forget plot] coordinates {(-409,1e-12) (-407,1e-8) (-405.5,1e-6) (-404,3e-5) (-403,1.8e-4) (-402,2e-4) (-401,3e-5) (-400,2e-6) (-399,1e-8) (-398,1e-12)};
\addplot[C4,dt,forget plot] coordinates {(-379,1e-12) (-376,1e-9) (-374,3e-8) (-372,3e-7) (-370,1e-7) (-368,1e-9) (-366,1e-12)};
\addplot[C5,dsh,forget plot] coordinates {(-363,1e-12) (-362,1e-6) (-361,1e-11) (-360,1e-5) (-359,1e-11) (-358,1e-6) (-357,1e-12) (-356,1e-7) (-355,1e-12) (-354,3e-8) (-353,1e-12)};
\addplot[C5,dt,forget plot] coordinates {(-360,1e-12) (-358,1e-8) (-356,1e-7) (-355,1e-9) (-353,1e-8) (-351,1e-12)};
\addplot[C6,dt,forget plot] coordinates {(-160,1e-12) (-158,1e-9) (-155,1e-8) (-152,2e-9) (-150,1e-12)};
\addplot[C7,dsh,forget plot] coordinates {(-416,1e-12) (-414,1e-7) (-412.5,1e-4) (-411.5,3.7e-3) (-410.5,1e-4) (-409.5,1e-12)};
\addplot[C7,dt,forget plot] coordinates {(-421,1e-12) (-420,1e-7) (-419,1e-11) (-418,1e-6) (-417,1e-11) (-416,2e-5) (-415,1e-12)};
\addplot[C7,forget plot] coordinates {(-256,1e-12) (-255,1e-8) (-254,1e-6) (-253,4.4e-4) (-252,1e-5) (-251,1e-7) (-250,1e-12)};
\addplot[C7,dsh,forget plot] coordinates {(-254,1e-12) (-252.5,1e-7) (-251.5,1e-5) (-250.5,1e-8) (-249.5,1e-12)};
\addplot[C8,forget plot] coordinates {(-159,1e-12) (-158,1e-9) (-157,1e-7) (-156,1e-9) (-155,3e-8) (-154,1e-10) (-153,1e-12)};
\addplot[C9,forget plot] coordinates {(-471,1e-12) (-470.5,1.2e-7) (-470,1e-12)};
\addplot[C9,forget plot] coordinates {(-198,1e-12) (-197,1e-8) (-196,1e-6) (-195,7.4e-5) (-194,1e-7) (-193,1e-12)};
\addplot[C9,dsh,forget plot] coordinates {(-294,1e-12) (-292,1e-8) (-291,1e-6) (-290,1e-8) (-289,1e-12)};
\node[font=\fontsize{12.5}{12.5}\selectfont] at (rel axis cs:0.06,0.962) {(e)};
\end{axis}

% ---------------- (f)
\begin{axis}[ymode=log, xmin=-500, xmax=0, ymin=1e-11, ymax=1,
  at={(298.3pt,27.5pt)}, width=181.7pt, height=177pt,
  xtick={-500,-400,...,0}, xticklabels={−500,−400,−300,−200,−100,0},
  yminorticks=false,
  tick label style={font=\fontsize{11}{11}\selectfont},
  xticklabel style={yshift=2.5pt},
  every tick/.style={black!75, line width=0.6pt},
  title={Tranisitions from (1\sub{a}, 1\sub{b}), \ Det=-50 MHz},
  title style={font=\fontsize{9.5}{9.5}\selectfont, anchor=center, yshift=0pt, at={(axis description cs:0.5,0.993)}},
  ylabel={Individual Transition Probability},
  ylabel style={font=\fontsize{11}{11}\selectfont, anchor=center, at={(axis description cs:-0.2,0.5)}},
  xlabel={Anharmonicity (MHz)},
  xlabel style={font=\fontsize{11}{11}\selectfont, anchor=center, at={(axis description cs:0.5,-0.112)}},
  every axis plot/.append style={line width=0.8pt, line join=round},
  legend image code/.code={\draw[#1, line width=1pt, opacity=1] (0pt,0pt) -- (16pt,0pt);},
  legend style={at={(0.99,0.984)}, font=\fontsize{5.7}{6.5}\selectfont, row sep=1.6pt, inner sep=2pt},
]
\addplot[C0] coordinates {(-347,1e-12) (-346,1e-8) (-345,1e-6) (-344,1e-4) (-343.4,6.6e-4) (-342.5,1e-4) (-341.5,1e-6) (-340.5,1e-9) (-340,1e-12)};
\addlegendentry{(3, 2, 0)}
\addplot[C0,dsh] coordinates {(-343,1e-12) (-342,1e-8) (-340.5,4e-6) (-339.5,1e-6) (-338,1e-8) (-337,1e-12)};
\addlegendentry{(3, 2, 1)}
\addplot[C0,dd] coordinates {(-341,1e-12) (-339,1e-8) (-336,1e-6) (-332,5e-6) (-328,5e-7) (-324,8e-8) (-320,2e-7) (-316,5e-8) (-312,1e-8) (-308,3e-8) (-303,1e-8) (-299,1e-9) (-295,1e-10) (-292,1e-12)};
\addlegendentry{(3, 2, 2)}
\addplot[C0,dt] coordinates {(-330,1e-12) (-326,1e-9) (-322,5e-9) (-318,1e-9) (-314,1e-12)};
\addlegendentry{(3, 2, 3)}
\addplot[C1] coordinates {(-302,1e-12) (-301,1e-9) (-300,1e-7) (-299,1e-6) (-298,3e-6) (-297,2e-5) (-296,1e-4) (-295,4.2e-4) (-294,5e-5) (-293,1e-5) (-292,5e-6) (-291,1e-7) (-290,1e-9) (-289,1e-12)};
\addlegendentry{(5, 0, 0)}
\addplot[C2] coordinates {(-361,1e-12) (-360,1e-6) (-359.3,1e-2) (-358.6,2) (-358,1e-2) (-357.5,1e-6) (-357,1e-12)};
\addlegendentry{(5, 1, 0)}
\addplot[C3] coordinates {(-291,1e-12) (-290,1e-9) (-288,1e-7) (-287,4e-7) (-286,1e-8) (-285,1e-7) (-284,1e-9) (-283,3e-8) (-282,1e-10) (-281,1e-12)};
\addlegendentry{(5, 2, 0)}
\addplot[C4] coordinates {(-491,1e-12) (-490,1e-8) (-489,1e-5) (-488.3,1.4e-4) (-487.5,1e-5) (-486.5,1e-8) (-486,1e-12)};
\addlegendentry{(6, 0, 0)}
\addplot[C5] coordinates {(-161,1e-12) (-160,1e-8) (-159,1e-5) (-158,8e-4) (-157,1e-5) (-156,1e-8) (-155,1e-12)};
\addlegendentry{(6, 1, 0)}
\addplot[C6] coordinates {(-338,1e-12) (-337,1e-8) (-336,1e-6) (-335,1e-8) (-334,1e-12)};
\addlegendentry{(7, 0, 0)}
\addplot[C7] coordinates {(-412,1e-12) (-411,1e-7) (-410,1e-4) (-409.3,0.1) (-408.5,1e-4) (-407.5,1e-8) (-407,1e-12)};
\addlegendentry{(7, 1, 0)}
\addplot[C8] coordinates {(-355,1e-12) (-354,1e-6) (-353,7.9e-4) (-352,1e-5) (-351,1e-4) (-350,1e-6) (-349,1e-5) (-348,1e-8) (-347,1e-12)};
\addlegendentry{(8, 0, 0)}
\addplot[C9] coordinates {(-387,1e-12) (-386,1e-7) (-385,4.2e-4) (-384,1e-7) (-383,1e-12)};
\addlegendentry{(8, 1, 0)}
\addplot[C0] coordinates {(-456,1e-12) (-455,1e-9) (-454,8.5e-8) (-453,1e-9) (-452,1e-12)};
\addlegendentry{(9, 0, 0)}
\addplot[C1] coordinates {(-476,1e-12) (-475,1e-9) (-474,2e-8) (-473,1e-9) (-472,1e-12)};
\addlegendentry{(9, 1, 0)}
\addplot[C0,forget plot] coordinates {(-252,1e-12) (-251,1e-7) (-250,1e-5) (-249,1e-6) (-248,1e-12)};
\addplot[C0,dd,forget plot] coordinates {(-248,1e-12) (-245,5e-8) (-241,1e-7) (-237,2e-8) (-234,1e-9) (-231,3e-9) (-228,3e-10) (-226,1e-12)};
\addplot[C1,dsh,forget plot] coordinates {(-298,1e-12) (-296,1e-6) (-295,1e-9) (-294,1e-6) (-293,1e-9) (-292,2e-6) (-291,1e-8) (-290,1e-7) (-289,1e-12)};
\addplot[C2,dsh,forget plot] coordinates {(-358,1e-12) (-357,1e-5) (-356.3,2e-2) (-355.5,1e-4) (-355,1e-7) (-354,1e-12)};
\addplot[C2,dt,forget plot] coordinates {(-357,1e-12) (-356,1e-6) (-355,1e-11) (-354,3e-5) (-353,1e-11) (-352,1e-6) (-351,1e-12)};
\addplot[C4,dsh,forget plot] coordinates {(-494,1e-12) (-493,1e-8) (-492,8e-6) (-491,1e-7) (-490,1e-12)};
\addplot[C4,forget plot] coordinates {(-213,1e-12) (-212,1e-8) (-211,1e-6) (-210,1e-5) (-209,5e-5) (-208,2.2e-4) (-207,5e-5) (-206,1e-5) (-205,2e-6) (-204,1e-8) (-203,1e-12)};
\addplot[C4,dsh,forget plot] coordinates {(-207,1e-12) (-205,1e-8) (-204,1e-6) (-203,1e-5) (-202,1e-6) (-201,1e-8) (-200,1e-12)};
\addplot[C4,dt,forget plot] coordinates {(-202,1e-12) (-199,1e-8) (-197,1e-7) (-195,1e-9) (-193,1e-12)};
\addplot[C6,dsh,forget plot] coordinates {(-343,1e-12) (-341,1e-8) (-338,1e-6) (-334,1e-5) (-329,4e-5) (-324,7e-5) (-319,8.7e-5) (-314,6e-5) (-310,2e-5) (-306,4e-6) (-303,1e-7) (-301,1e-9) (-300,1e-12)};
\addplot[C6,dt,forget plot] coordinates {(-292,1e-12) (-289,1e-8) (-285,5e-8) (-281,1e-8) (-277,5e-9) (-274,1e-10) (-272,1e-12)};
\addplot[C7,dsh,forget plot] coordinates {(-416,1e-12) (-415,1e-6) (-414,2.3e-3) (-413,1e-5) (-412,1e-12)};
\addplot[C7,dt,forget plot] coordinates {(-421,1e-12) (-420,1e-8) (-419,1e-11) (-418,1e-6) (-417,1e-11) (-416,1e-5) (-415,1e-12)};
\addplot[C7,forget plot] coordinates {(-254,1e-12) (-253,1e-7) (-252,4.7e-4) (-251,1e-7) (-250,1e-12)};
\addplot[C8,forget plot] coordinates {(-180,1e-12) (-179,1e-9) (-178,6e-8) (-177,1e-9) (-176,1e-12)};
\addplot[C8,dsh,forget plot] coordinates {(-353,1e-12) (-352,1e-7) (-351,1e-11) (-350,1e-6) (-349,1e-11) (-348,1e-7) (-347,1e-12)};
\addplot[C9,forget plot] coordinates {(-154,1e-12) (-153,1e-8) (-152,1e-6) (-151,9e-6) (-150,1e-6) (-149,1e-8) (-148,1e-12)};
\addplot[C9!50,dsh,forget plot] coordinates {(-152,1e-12) (-150,1e-7) (-149,3e-6) (-148,1e-8) (-147,1e-12)};
\addplot[C1,dd,forget plot] coordinates {(-487,1e-12) (-485,2.5e-8) (-482,6e-7) (-480,1.8e-6) (-477,6e-7) (-473,2e-8) (-469,3e-9) (-466,3e-8) (-462,1.2e-7) (-457,2e-7) (-453,5e-8) (-450,1.2e-8) (-446,8e-8) (-440,3e-7) (-435,5e-6) (-430,2.2e-5) (-423,2.6e-5) (-418,4e-6) (-414,2.5e-8) (-412,1e-12)};
\addplot[C1,dt,forget plot] coordinates {(-500,1e-9) (-499,1e-12) (-498,1e-9) (-497,1e-12) (-495,5e-10) (-494,1e-12)};
\addplot[C1,dt,forget plot] coordinates {(-433,1e-12) (-432,1e-7) (-431,1e-11) (-428,3e-7) (-427,1e-11) (-424,4e-7) (-423,1e-11) (-420,1e-7) (-419,1e-12)};
\node[font=\fontsize{12.5}{12.5}\selectfont] at (rel axis cs:0.055,0.962) {(f)};
\end{axis}
\end{tikzpicture}
\end{document}
